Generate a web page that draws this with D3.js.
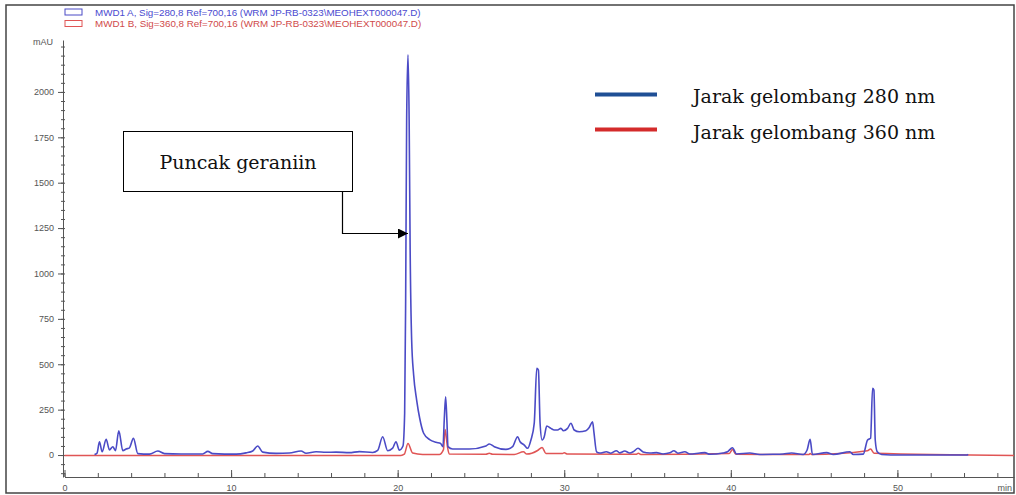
<!DOCTYPE html>
<html>
<head>
<meta charset="utf-8">
<script src="https://cdnjs.cloudflare.com/ajax/libs/d3/7.8.5/d3.min.js"></script>
<style>
body { margin: 0; background: #fff; }
.axis text { font-family: "Liberation Sans", Arial, sans-serif; font-size: 9px; fill: #555; }
.axis path, .axis line { stroke: #555; }
</style>
</head>
<body>
<div id="svg-container"></div>
<script>
// 280 nm trace (blue)
let blueTime = [1.8,1.95,2.1,2.26,2.5,2.7,2.9,3.06,3.26,3.5,
  3.7,3.9,4.14,4.4,5.1,5.6,6.0,7.0,8.3,8.6,
  8.9,10.3,10.9,11.3,11.6,11.9,12.7,13.5,14.2,14.5,
  15.1,15.7,16.3,17.1,17.7,18.5,18.8,19.1,19.4,19.7,
  19.9,20.1,20.32,20.42,20.48,20.54,20.62,20.69,20.75,20.84,
  20.96,21.14,21.32,21.56,21.92,22.3,22.58,22.72,22.8,22.88,
  22.96,23.02,23.3,24.3,25.3,25.5,25.8,26.5,26.9,27.2,
  27.35,27.6,27.8,28.0,28.2,28.35,28.45,28.55,28.67,28.8,
  28.95,29.2,29.4,29.6,29.8,29.95,30.2,30.4,30.6,30.9,
  31.3,31.5,31.7,31.78,31.94,32.13,32.53,32.8,33.13,33.33,
  33.63,33.93,34.17,34.43,34.73,35.14,35.54,35.93,36.34,36.58,
  36.82,37.24,37.54,38.14,38.44,38.74,39.54,39.8,40.1,40.34,
  41.14,41.74,42.54,43.14,43.65,44.34,44.58,44.76,44.9,45.75,
  46.15,47.15,47.35,47.95,48.21,48.39,48.51,48.59,48.67,48.79,
  49.05,50.15,54.16,54.25];
let blueMau = [3,10,73,18,86,28,46,24,134,24,
  33,40,92,8,5,22,8,6,6,20,
  8,5,12,22,50,16,9,11,22,10,
  18,15,16,13,19,14,25,101,24,38,
  73,27,50,231,854,1846,2204,1846,1130,634,
  441,303,204,120,85,70,64,46,200,321,
  180,46,33,33,50,61,46,31,46,101,
  73,55,37,83,176,478,468,175,83,101,
  160,147,138,138,147,134,147,175,138,128,
  134,152,183,128,18,11,18,10,24,12,
  22,11,20,37,17,11,13,6,12,24,
  10,18,6,11,13,4,11,18,40,6,
  11,3,4,6,11,3,28,86,3,13,
  3,18,3,5,83,92,367,358,83,18,
  3,0,0,4];

// 360 nm trace (red)
let redTime = [0,20.2,20.4,20.62,20.9,21.5,22.5,22.75,22.85,22.98,
  23.1,25.3,25.5,25.7,27.0,27.55,27.75,28.4,28.67,28.9,
  29.9,30.0,30.2,34.3,34.45,34.6,39.9,40.1,40.3,44.7,
  44.76,44.85,48.2,48.39,48.6,57];
let redMau = [-2,-2,5,64,11,3,3,30,140,50,
  5,4,10,4,3,18,5,25,42,9,
  9,12,5,4,10,3,8,30,4,3,
  8,3,24,33,10,-2];

let yMajor = [0,250,500,750,1000,1250,1500,1750,2000];
let xMajor = [0,10,20,30,40,50];
let headerLabels = ['MWD1 A, Sig=280,8 Ref=700,16 (WRM JP-RB-0323\\MEOHEXT000047.D)',
  'MWD1 B, Sig=360,8 Ref=700,16 (WRM JP-RB-0323\\MEOHEXT000047.D)'];
let legendLabels = ['Jarak gelombang 280 nm', 'Jarak gelombang 360 nm'];
let annotation = 'Puncak geraniin';

let w = 1016;
let h = 495;

let blueColor = '#4b4bc6';
let redColor = '#e05555';

let svg = d3.select('#svg-container').
append('svg').
attr('width', w).
attr('height', h);

// outer frame
svg.append('rect').
attr('x', 6).
attr('y', 5).
attr('width', 1008).
attr('height', 488).
attr('fill', 'none').
attr('stroke', '#444').
attr('stroke-width', 1.5);

let x = d3.scaleLinear().domain([0, 57]).range([64.5, 1014]);
let y = d3.scaleLinear().domain([-121, 2286]).range([477, 40]);

// y axis: minor ticks then labelled ticks
let yMinor = d3.range(-100, 2251, 50);
svg.append('g').
attr('class', 'axis').
attr('transform', 'translate(63,0)').
call(d3.axisLeft(y).tickValues(yMinor).tickSize(2).tickSizeOuter(0).tickFormat('')).
call(g => g.selectAll('.tick line').attr('x2', 2).attr('x1', -2));

svg.append('g').
attr('class', 'axis').
attr('transform', 'translate(63,0)').
call(d3.axisLeft(y).tickValues(yMajor).tickSize(5).tickSizeOuter(0).tickPadding(4).tickFormat(d3.format('d'))).
call(g => g.select('.domain').remove());

svg.append('text').
attr('x', 53).
attr('y', 45).
attr('text-anchor', 'end').
style('font-family', '"Liberation Sans", Arial, sans-serif').
style('font-size', '9px').
style('fill', '#555').
text('mAU');

// x axis
let xMinor = d3.range(0, 57, 2);
svg.append('g').
attr('class', 'axis').
attr('transform', 'translate(0,477)').
call(d3.axisBottom(x).tickValues(xMinor).tickSize(-4).tickSizeOuter(0).tickFormat(''));

svg.append('g').
attr('class', 'axis').
attr('transform', 'translate(0,477)').
call(d3.axisBottom(x).tickValues(xMajor).tickSize(-7).tickSizeOuter(0).tickPadding(8).tickFormat(d3.format('d'))).
call(g => g.select('.domain').remove());

svg.append('text').
attr('x', 1012).
attr('y', 491).
attr('text-anchor', 'end').
style('font-family', '"Liberation Sans", Arial, sans-serif').
style('font-size', '9px').
style('fill', '#555').
text('min');

// traces
let line = d3.line().
x(d => x(d[0])).
y(d => y(d[1])).
curve(d3.curveMonotoneX);

let redPts = redTime.map((t, i) => [t, redMau[i]]);
let bluePts = blueTime.map((t, i) => [t, blueMau[i]]);

svg.append('path').
attr('d', line(redPts)).
attr('fill', 'none').
attr('stroke', redColor).
attr('stroke-width', 1.5);

svg.append('path').
attr('d', line(bluePts)).
attr('fill', 'none').
attr('stroke', blueColor).
attr('stroke-width', 1.6);

// header legend
let header = svg.append('g');
header.selectAll('rect').
data(headerLabels).
enter().
append('rect').
attr('x', 65).
attr('y', (d, i) => 9 + i * 11.5).
attr('width', 17).
attr('height', 6).
attr('fill', 'none').
attr('stroke', (d, i) => i === 0 ? blueColor : redColor);

header.selectAll('text').
data(headerLabels).
enter().
append('text').
attr('x', 95).
attr('y', (d, i) => 15.5 + i * 11.5).
style('font-family', '"Liberation Sans", Arial, sans-serif').
style('font-size', '9.8px').
style('fill', (d, i) => i === 0 ? '#4a4ad0' : '#d04a4a').
text(d => d);

// wavelength legend
let legend = svg.append('g');
legend.selectAll('line').
data(legendLabels).
enter().
append('line').
attr('x1', 595).
attr('x2', 657).
attr('y1', (d, i) => 94.5 + i * 35).
attr('y2', (d, i) => 94.5 + i * 35).
attr('stroke', (d, i) => i === 0 ? '#1f4f95' : '#d42b2b').
attr('stroke-width', 4);

legend.selectAll('text').
data(legendLabels).
enter().
append('text').
attr('x', 693).
attr('y', (d, i) => 103 + i * 36).
style('font-family', '"DejaVu Serif", serif').
style('font-size', '19px').
style('fill', '#111').
text(d => d);

// annotation box and arrow
svg.append('defs').
append('marker').
attr('id', 'arrow').
attr('viewBox', '0 0 10 10').
attr('refX', 10).
attr('refY', 5).
attr('markerWidth', 10).
attr('markerHeight', 10).
attr('markerUnits', 'userSpaceOnUse').
attr('orient', 'auto').
append('path').
attr('d', 'M0,0 L10,5 L0,10 Z').
attr('fill', '#000');

svg.append('rect').
attr('x', 123.5).
attr('y', 131.5).
attr('width', 229).
attr('height', 60).
attr('fill', '#fff').
attr('stroke', '#000').
attr('stroke-width', 1);

svg.append('text').
attr('x', 238).
attr('y', 169).
attr('text-anchor', 'middle').
style('font-family', '"DejaVu Serif", serif').
style('font-size', '19px').
style('fill', '#111').
text(annotation);

svg.append('path').
attr('d', 'M342.5,191.5 V233.5 H408').
attr('fill', 'none').
attr('stroke', '#000').
attr('stroke-width', 1.2).
attr('marker-end', 'url(#arrow)');
</script>
</body>
</html>
